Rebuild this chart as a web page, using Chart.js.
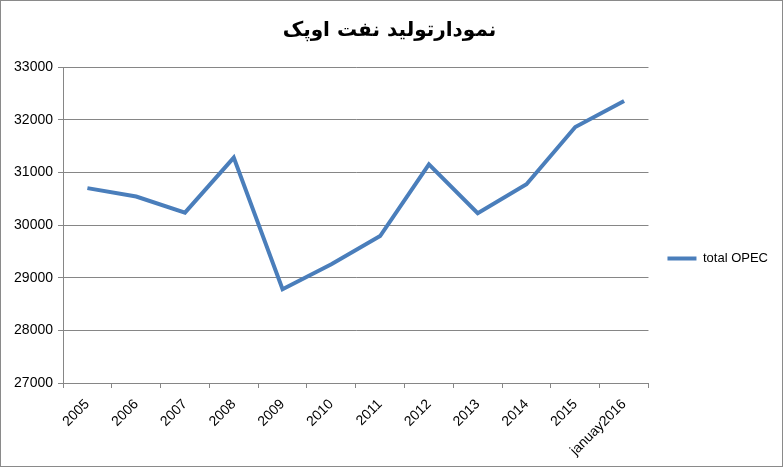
<!DOCTYPE html>
<html>
<head>
<meta charset="utf-8">
<script src="https://cdn.jsdelivr.net/npm/chart.js@4.4.0/dist/chart.umd.min.js"></script>
<style>
  html, body { margin: 0; padding: 0; background: #fff; }
  #wrap { width: 781px; height: 465px; border: 1px solid #8a8a8a; position: relative; }
</style>
</head>
<body>
<div id="wrap"><canvas id="myChart" width="781" height="465"></canvas></div>
<script>
var years = ["2005", "2006", "2007", "2008", "2009", "2010", "2011", "2012", "2013", "2014", "2015", "januay2016"];
var opecOutput = [30700, 30540, 30235, 31280, 28780, 29255, 29790, 31150, 30225, 30775, 31860, 32355];
var seriesName = "total OPEC";
var titleText = "نمودارتولید نفت اوپک";

var gridGray = "#868686";
var lineBlue = "#4A7EBB";

new Chart("myChart", {
  type: "line",
  data: {
    labels: years,
    datasets: [{
      label: seriesName,
      data: opecOutput,
      borderColor: lineBlue,
      backgroundColor: lineBlue,
      borderWidth: 4,
      pointRadius: 0,
      tension: 0,
      fill: false
    }]
  },
  options: {
    responsive: false,
    animation: false,
    layout: { padding: { left: 0, right: 4, top: 0, bottom: 0 } },
    plugins: {
      title: {
        display: true,
        text: titleText,
        color: "#000",
        font: { family: "DejaVu Sans", size: 20, weight: "bold" },
        padding: { top: 18, bottom: 24 }
      },
      legend: {
        position: "right",
        title: { display: true, text: "", font: { size: 10 }, padding: { top: 38, bottom: 0 } },
        labels: {
          usePointStyle: true,
          pointStyle: "line",
          pointStyleWidth: 29,
          color: "#000",
          font: { family: "Liberation Sans", size: 13 },
          padding: 19
        }
      },
      tooltip: { enabled: false }
    },
    scales: {
      x: {
        offset: true,
        grid: { offset: true, drawOnChartArea: false, drawTicks: true, tickLength: 5, color: gridGray },
        border: { color: gridGray },
        ticks: { minRotation: 45, maxRotation: 45, color: "#000", font: { family: "Liberation Sans", size: 14 }, padding: 8 },
        afterFit: function (s) { s.height = 83; }
      },
      y: {
        min: 27000,
        max: 33000,
        grid: { color: gridGray, tickLength: 5 },
        border: { color: gridGray },
        ticks: {
          stepSize: 1000, color: "#000", font: { family: "Liberation Sans", size: 14 }, padding: 5,
          callback: function (v) { return String(v); }
        },
        afterFit: function (s) { s.width = 62; }
      }
    }
  }
});
</script>
</body>
</html>
